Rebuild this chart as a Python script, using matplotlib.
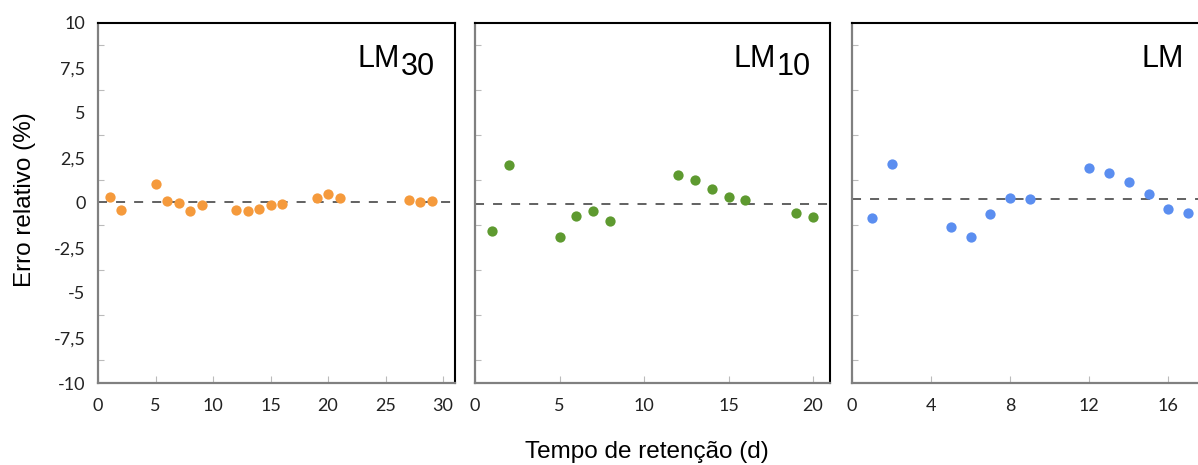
import matplotlib
matplotlib.use('Agg')

import matplotlib.pyplot as plt
from matplotlib.ticker import MultipleLocator, FixedLocator

# data (x = days, y = relative error %)
lm30_x = [1, 2, 5, 6, 7, 8, 9, 12, 13, 14, 15, 16, 19, 20, 21, 27, 28, 29]
lm30_y = [0.33, -0.39, 1.07, 0.09, -0.02, -0.43, -0.13, -0.39, -0.43, -0.32,
          -0.13, -0.06, 0.25, 0.51, 0.25, 0.14, 0.03, 0.09]

lm10_x = [1, 2, 5, 6, 7, 8, 12, 13, 14, 15, 16, 19, 20]
lm10_y = [-1.58, 2.12, -1.88, -0.73, -0.43, -1.0, 1.55, 1.25, 0.79, 0.33,
          0.16, -0.54, -0.78]

lm_x = [1, 2, 5, 6, 7, 8, 9, 12, 13, 14, 15, 16, 17]
lm_y = [-0.84, 2.18, -1.36, -1.88, -0.6, 0.27, 0.2, 1.94, 1.66, 1.18, 0.49,
        -0.32, -0.54]

mean_lines = [0.03, -0.05, 0.2]
y_ticks = [-10, -7.5, -5, -2.5, 0, 2.5, 5, 7.5, 10]
y_labels = ['-10', '-7,5', '-5', '-2,5', '0', '2,5', '5', '7,5', '10']

W, H = 1198, 465
fig = plt.figure(figsize=(W / 100, H / 100), dpi=100)

top, bottom = 22.7, 383
panels = [
    # x data, y data, colour, xmax, xtick step, left px, px per unit, name, sub
    (lm30_x, lm30_y, '#F59A3C', 31, 5, 98, 11.5, 'LM', '30'),
    (lm10_x, lm10_y, '#5E9A30', 21, 5, 475, 16.9, 'LM', '10'),
    (lm_x, lm_y, '#5B8EF0', 18, 4, 852, 19.77, 'LM', ''),
]
label_px = [302, 301, 332]

for i, (xs, ys, col, xmax, step, left, ppu, name, sub) in enumerate(panels):
    width = xmax * ppu
    ax = fig.add_axes([left / W, 1 - bottom / H, width / W, (bottom - top) / H])
    ax.axhline(mean_lines[i], color='#555555', lw=1.3, ls=(0, (5, 5)), zorder=1)
    ax.plot(xs, ys, 'o', color=col, ms=7.4, mec='none', zorder=3, clip_on=False)
    ax.set_xlim(0, xmax)
    ax.set_ylim(-10, 10)

    ax.yaxis.set_major_locator(FixedLocator(y_ticks))
    ax.yaxis.set_minor_locator(FixedLocator([v + 1.25 for v in y_ticks[:-1]]))
    ax.xaxis.set_major_locator(MultipleLocator(step))
    ax.tick_params(axis='y', which='major', length=0, pad=9,
                   labelsize=13, labelcolor='#222222')
    ax.tick_params(axis='y', which='minor', direction='in', length=4,
                   width=0.8, color='#bbbbbb')
    ax.tick_params(axis='x', which='major', direction='in', length=5,
                   width=0.8, color='#bbbbbb', pad=11,
                   labelsize=13, labelcolor='#222222')
    if i == 0:
        ax.set_yticklabels(y_labels)
    else:
        ax.set_yticklabels([])
    for lab in ax.get_xticklabels() + ax.get_yticklabels():
        lab.set_fontfamily('Lato')

    for s in ['left', 'bottom']:
        ax.spines[s].set_color('#808080')
        ax.spines[s].set_linewidth(1.6)
    for s in ['top', 'right']:
        ax.spines[s].set_color('black')
        ax.spines[s].set_linewidth(1.5)

    # panel name with a full-size subscript
    ax.annotate(name, xy=(0, 1), xycoords='axes fraction',
                xytext=(label_px[i], -44), textcoords='offset pixels',
                ha='right', va='baseline', fontsize=22,
                family='Liberation Sans')
    if sub:
        ax.annotate(sub, xy=(0, 1), xycoords='axes fraction',
                    xytext=(label_px[i] + 1, -52), textcoords='offset pixels',
                    ha='left', va='baseline', fontsize=22,
                    family='Liberation Sans')

fig.text(25 / W, 1 - 200 / H, 'Erro relativo (%)', rotation=90,
         ha='center', va='center', fontsize=17.5, family='Liberation Sans')
fig.text(647 / W, 1 - 452 / H, 'Tempo de retenção (d)',
         ha='center', va='center', fontsize=17.5, family='Liberation Sans')

fig.savefig('out.png', dpi=100)
